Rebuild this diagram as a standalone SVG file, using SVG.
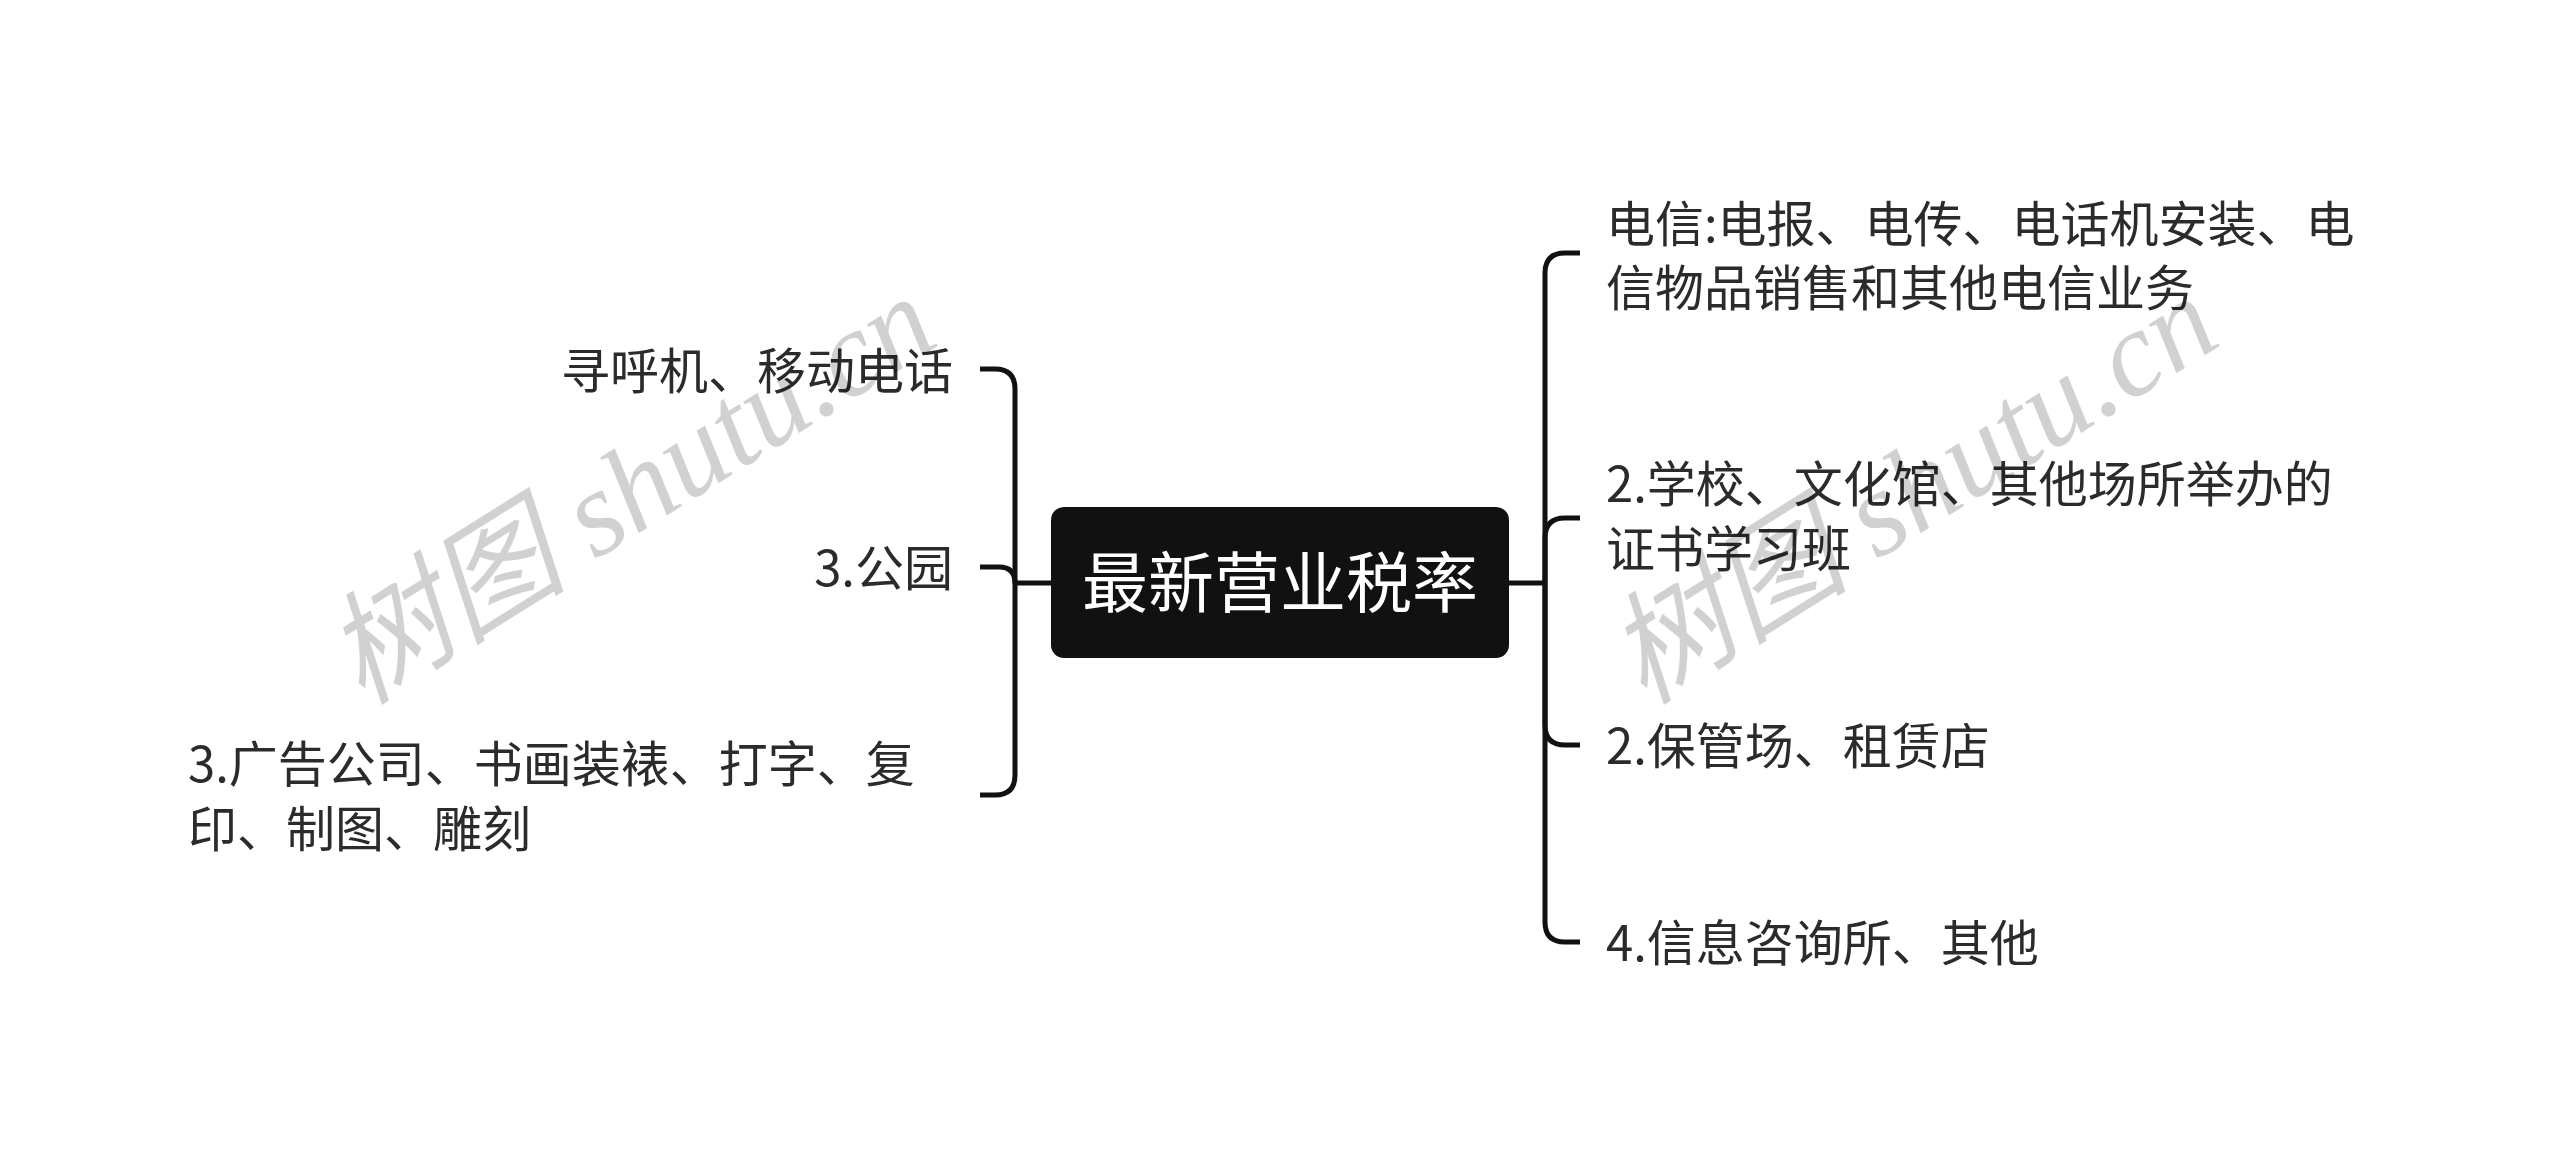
<svg xmlns="http://www.w3.org/2000/svg" width="2560" height="1165" viewBox="0 0 2560 1165">
  <style>
    .t { font-family: "Noto Sans CJK SC", "Noto Sans", sans-serif; font-size: 49px; fill: #2b2b2b; }
    .root { font-family: "Noto Sans CJK SC", "Noto Sans", sans-serif; font-size: 66px; fill: #ffffff; }
    .c { fill: none; stroke: #111111; stroke-width: 5; stroke-linecap: butt; stroke-linejoin: round; }
    .wm { font-family: "Liberation Serif", "Noto Sans CJK SC", serif; font-style: italic; font-size: 122px; fill: #000000; fill-opacity: 0.18; }
  </style>
  <rect x="0" y="0" width="2560" height="1165" fill="#ffffff"/>

  <g id="connectors">
    <path class="c" d="M1509 583 H1545 V273 Q1545 253 1565 253 H1580"/>
    <path class="c" d="M1545 583 V538 Q1545 518 1565 518 H1580"/>
    <path class="c" d="M1545 583 V725 Q1545 745 1565 745 H1580"/>
    <path class="c" d="M1545 583 V922 Q1545 942 1565 942 H1580"/>
    <path class="c" d="M1051 583 H1015 V389 Q1015 369 995 369 H980"/>
    <path class="c" d="M1015 583 Q1015 567 999 567 H980"/>
    <path class="c" d="M1015 583 V775 Q1015 795 995 795 H980"/>
  </g>

  <g id="root">
    <rect x="1051" y="507" width="458" height="151" rx="13" ry="13" fill="#111111"/>
    <text class="root" x="1280" y="607" text-anchor="middle">最新营业税率</text>
  </g>

  <g id="r1">
    <text class="t" x="1606" y="242">电信:电报、电传、电话机安装、电</text>
    <text class="t" x="1606" y="306">信物品销售和其他电信业务</text>
  </g>
  <g id="r2">
    <text class="t" x="1606" y="502">2.学校、文化馆、其他场所举办的</text>
    <text class="t" x="1606" y="567">证书学习班</text>
  </g>
  <g id="r3">
    <text class="t" x="1606" y="764">2.保管场、租赁店</text>
  </g>
  <g id="r4">
    <text class="t" x="1606" y="961">4.信息咨询所、其他</text>
  </g>

  <g id="l1">
    <text class="t" x="953" y="389" text-anchor="end">寻呼机、移动电话</text>
  </g>
  <g id="l2">
    <text class="t" x="953" y="586" text-anchor="end">3.公园</text>
  </g>
  <g id="l3">
    <text class="t" x="188" y="782">3.广告公司、书画装裱、打字、复</text>
    <text class="t" x="188" y="847">印、制图、雕刻</text>
  </g>

  <g id="watermark">
    <text class="wm" transform="translate(362 706) rotate(-32)">树图 shutu.cn</text>
    <text class="wm" transform="translate(1644 706) rotate(-32)">树图 shutu.cn</text>
  </g>
</svg>
